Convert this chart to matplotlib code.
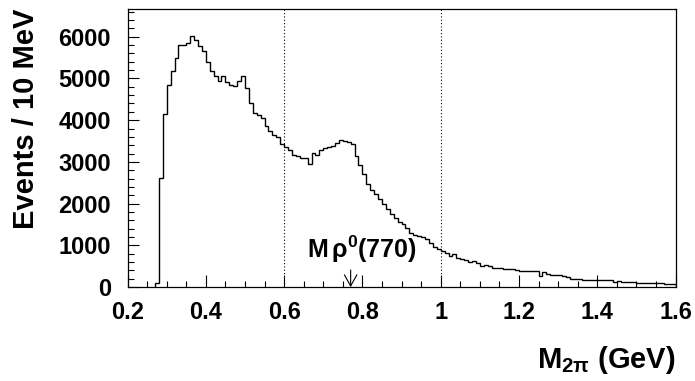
import numpy as np
import matplotlib
matplotlib.use("Agg")
import matplotlib.pyplot as plt

# two-pion invariant mass spectrum, 10 MeV bins from 0.27 to 1.60 GeV
bin_lo = 0.27
bin_w = 0.01
counts = [
    100, 2620, 4150, 4850, 5190, 5490, 5810, 5810, 5840, 6010,   # 0.27-0.36
    5910, 5780, 5650, 5390, 5190, 5050, 4930, 5050, 4910, 4850,  # 0.37-0.46
    4810, 4930, 5070, 4770, 4410, 4170, 4130, 4050, 3870, 3730,  # 0.47-0.56
    3650, 3600, 3440, 3350, 3280, 3170, 3130, 3090, 3090, 2960,  # 0.57-0.66
    3210, 3170, 3290, 3330, 3360, 3390, 3450, 3520, 3490, 3470,  # 0.67-0.76
    3440, 3130, 2930, 2700, 2480, 2320, 2220, 2100, 1980, 1870,  # 0.77-0.86
    1760, 1660, 1550, 1500, 1420, 1300, 1260, 1230, 1200, 1150,  # 0.87-0.96
    1060, 950, 910, 860, 820, 740, 800, 700, 675, 645,           # 0.97-1.06
    595, 620, 580, 515, 540, 500, 460, 460, 450, 435,            # 1.07-1.16
    435, 435, 420, 395, 395, 395, 395, 395, 275, 355,            # 1.17-1.26
    315, 285, 285, 285, 275, 235, 205, 205, 200, 180,            # 1.27-1.36
    180, 165, 165, 180, 180, 165, 165, 125, 150, 125,            # 1.37-1.46
    125, 120, 120, 100, 100, 100, 100, 100, 95, 95,              # 1.47-1.56
    85, 85, 80,                                                  # 1.57-1.59
]
edges = bin_lo + bin_w * np.arange(len(counts) + 1)

x_ticks = [0.2, 0.4, 0.6, 0.8, 1.0, 1.2, 1.4, 1.6]
x_ticklabels = ["0.2", "0.4", "0.6", "0.8", "1", "1.2", "1.4", "1.6"]
y_ticks = [0, 1000, 2000, 3000, 4000, 5000, 6000]
dotted_x = [0.6, 1.0]
rho_mass = 0.77

plt.rcParams['font.family'] = ['Liberation Sans', 'DejaVu Sans']
plt.rcParams['font.weight'] = 'bold'
plt.rcParams['mathtext.fontset'] = 'custom'
plt.rcParams['mathtext.rm'] = 'Liberation Sans'
plt.rcParams['mathtext.bf'] = 'Liberation Sans:bold'
plt.rcParams['mathtext.it'] = 'Liberation Sans:italic'

fig = plt.figure(figsize=(6.95, 3.81), dpi=100)
ax = fig.add_axes([0.1835, 0.2465, 0.972 - 0.1835, 0.9764 - 0.2465])

ax.stairs(counts, edges, color='black', lw=1.0)

for xv in dotted_x:
    ax.axvline(xv, color='black', lw=0.8, ls=(0, (1, 2)))

ax.set_xlim(0.2, 1.6)
ax.set_ylim(0, 6665)

ax.set_xticks(x_ticks)
ax.set_xticklabels(x_ticklabels)
ax.set_xticks(np.arange(0.2, 1.6001, 0.05), minor=True)
ax.set_yticks(y_ticks)
ax.set_yticks(np.arange(0, 6601, 200), minor=True)

ax.tick_params(which='both', direction='in', top=False, right=False,
               labelsize=17, width=0.8)
ax.tick_params(axis='x', which='major', length=8.6, pad=10)
ax.tick_params(axis='x', which='minor', length=4.3)
ax.tick_params(axis='y', which='major', length=8, pad=12)
ax.tick_params(axis='y', which='minor', length=4)
for lab in ax.get_xticklabels() + ax.get_yticklabels():
    lab.set_fontweight('bold')
for s in ax.spines.values():
    s.set_linewidth(0.9)

# rho(770) marker
ax.annotate('', xy=(rho_mass, 0), xytext=(rho_mass, 410),
            arrowprops=dict(arrowstyle='->, head_length=0.8, head_width=0.45',
                            color='black', lw=0.8, mutation_scale=10,
                            shrinkA=0, shrinkB=0))
ax.text(0.798, 690, r'$\mathbf{M}\,\mathrm{\rho}^{\mathbf{0}}\mathbf{(770)}$',
        ha='center', va='baseline', fontsize=18)

# axis titles, ROOT style (aligned to the far ends)
fig.text(34 / 695, 1 - 9 / 381, 'Events / 10 MeV', rotation=90,
         rotation_mode='anchor', ha='right', va='baseline',
         fontsize=21, fontweight='bold')
fig.text(676 / 695, 13 / 381, r'$\mathbf{M}_{\mathbf{2\pi}}$ (GeV)',
         ha='right', va='baseline', fontsize=21, fontweight='bold')

fig.savefig('out.png', dpi=100)
